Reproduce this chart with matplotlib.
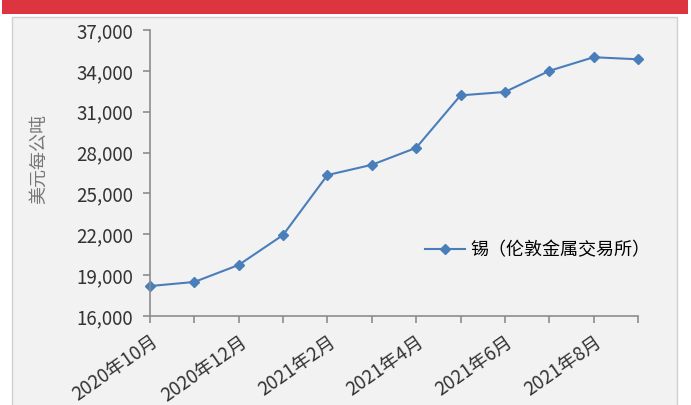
import matplotlib.pyplot as plt
from matplotlib.patches import Rectangle

plt.rcParams['font.family'] = ['Noto Sans CJK SC', 'DejaVu Sans']

months = ['2020年10月', '2020年11月', '2020年12月', '2021年1月', '2021年2月', '2021年3月',
          '2021年4月', '2021年5月', '2021年6月', '2021年7月', '2021年8月', '2021年9月']
tin_price = [18200, 18500, 19750, 21950, 26350, 27100, 28350, 32200, 32450, 34000, 35000, 34850]
y_ticks = [16000, 19000, 22000, 25000, 28000, 31000, 34000, 37000]

fig = plt.figure(figsize=(6.91, 4.05), dpi=100)
fig.patch.set_facecolor('white')

# red header bar and grey panel (behind the axes)
fig.add_artist(Rectangle((0.003, 1 - 14 / 405), 686 / 691, 14 / 405, transform=fig.transFigure,
                         facecolor='#dc3540', edgecolor='none', zorder=-2))
fig.add_artist(Rectangle((12 / 691, -0.01), 665 / 691, 1 - 17 / 405 + 0.01, transform=fig.transFigure,
                         facecolor='#f2f2f2', edgecolor='#d0d0d0', linewidth=1, zorder=-2))

ax = fig.add_axes([150 / 691, 89 / 405, 488 / 691, 286 / 405])
ax.set_facecolor('none')

x = list(range(len(months)))
ax.plot(x, tin_price, color='#4a7ebb', linewidth=1.5, marker='D', markersize=5,
        label='锡（伦敦金属交易所）', clip_on=False)

ax.set_xlim(0, len(months) - 1)
ax.set_ylim(16000, 37000)
ax.set_yticks(y_ticks)
ax.set_yticklabels([f'{v:,}' for v in y_ticks])
ax.set_xticks(x)
ax.set_xticklabels([m if i % 2 == 0 else '' for i, m in enumerate(months)],
                   rotation=35, ha='right', rotation_mode='anchor')

for s in ['top', 'right']:
    ax.spines[s].set_visible(False)
for s in ['left', 'bottom']:
    ax.spines[s].set_color('#8c8c8c')
    ax.spines[s].set_linewidth(1.2)
ax.tick_params(axis='both', colors='#8c8c8c', length=5, width=1.2, labelsize=13.5, labelcolor='#333333')
ax.tick_params(axis='y', pad=7)
ax.tick_params(axis='x', pad=6)

ax.set_ylabel('美元每公吨', color='#777777', fontsize=13)
ax.yaxis.set_label_coords(-0.21, 0.55)

ax.legend(loc='center left', bbox_to_anchor=(0.53, 0.23), frameon=False, fontsize=13,
          handlelength=2.2, handletextpad=0.3)

fig.savefig('out.png', dpi=100, facecolor=fig.get_facecolor())
